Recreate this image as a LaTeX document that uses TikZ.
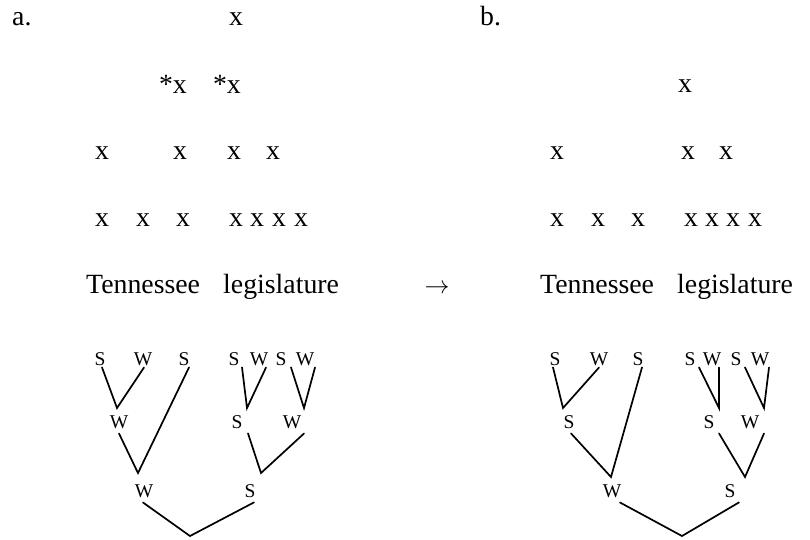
\documentclass[tikz,border=0pt]{standalone}
\usepackage{fontspec}
\setmainfont{Liberation Serif}
\begin{document}
\begin{tikzpicture}[x=1pt,y=-1pt,
  txt/.style={inner sep=0pt,anchor=base,font=\fontsize{27.8}{33}\selectfont},
  txtw/.style={txt,anchor=base west},
  txte/.style={txt,anchor=base east},
  lab/.style={inner sep=0pt,anchor=base,font=\fontsize{19.5}{23}\selectfont},
  br/.style={line width=1.7pt,line cap=round,line join=miter}]
\useasboundingbox (0,0) rectangle (810,539);
% ---------- a. grid ----------
\node[txtw] (alab) at (12,25) {a.};
\node[txt] (ax1) at (236,25) {x};
\node[txte] (ax2a) at (187,93) {*x};
\node[txte] (ax2b) at (241,93) {*x};
\node[txt] (ax3a) at (102,159) {x};
\node[txt] (ax3b) at (180,159) {x};
\node[txt] (ax3c) at (234,159) {x};
\node[txt] (ax3d) at (273,159) {x};
\node[txt] (ax4a) at (102,226) {x};
\node[txt] (ax4b) at (143,226) {x};
\node[txt] (ax4c) at (183,226) {x};
\node[txt] (ax4d) at (236,226) {x};
\node[txt] (ax4e) at (257,226) {x};
\node[txt] (ax4f) at (279,226) {x};
\node[txt] (ax4g) at (301,226) {x};
\node[txtw] (aw1) at (86,293) {Tennessee};
\node[txtw] (aw2) at (223,293) {legislature};
% arrow
\node[txt] (arr) at (437,293) {$\rightarrow$};
% ---------- b. grid ----------
\node[txtw] (blab) at (480,25) {b.};
\node[txt] (bx1) at (685,92) {x};
\node[txt] (bx3a) at (557,159) {x};
\node[txt] (bx3b) at (688,159) {x};
\node[txt] (bx3c) at (726,159) {x};
\node[txt] (bx4a) at (557,226) {x};
\node[txt] (bx4b) at (598,226) {x};
\node[txt] (bx4c) at (638,226) {x};
\node[txt] (bx4d) at (691,226) {x};
\node[txt] (bx4e) at (712,226) {x};
\node[txt] (bx4f) at (733,226) {x};
\node[txt] (bx4g) at (755,226) {x};
\node[txtw] (bw1) at (540,293) {Tennessee};
\node[txtw] (bw2) at (677,293) {legislature};
% ---------- a. tree ----------
\node[lab] (a1) at (100,365) {S};
\node[lab] (a2) at (143,365) {W};
\node[lab] (a3) at (184,365) {S};
\node[lab] (a4) at (234,365) {S};
\node[lab] (a5) at (259,365) {W};
\node[lab] (a6) at (281,365) {S};
\node[lab] (a7) at (305,365) {W};
\node[lab] (ma1) at (119,428) {W};
\node[lab] (ma2) at (237,428) {S};
\node[lab] (ma3) at (292,428) {W};
\node[lab] (ba1) at (144,497) {W};
\node[lab] (ba2) at (250,497) {S};
\coordinate (ja1) at (117,408);
\coordinate (ja2) at (247,408);
\coordinate (ja3) at (304,408);
\coordinate (ja4) at (138,473);
\coordinate (ja5) at (261,473);
\coordinate (ja6) at (190,536);
\draw[br] ([xshift=2pt,yshift=-2pt]a1.south) -- (ja1) -- ([xshift=1pt,yshift=-2pt]a2.south);
\draw[br] ([xshift=8pt,yshift=-2pt]a4.south) -- (ja2) -- ([xshift=7pt,yshift=-2pt]a5.south);
\draw[br] ([xshift=10pt,yshift=-2pt]a6.south) -- (ja3) -- ([xshift=10pt,yshift=-2pt]a7.south);
\draw[br] ([yshift=-5pt]ma1.south) -- (ja4) -- ([xshift=5pt,yshift=-2pt]a3.south);
\draw[br] ([xshift=11pt,yshift=-5pt]ma2.south) -- (ja5) -- ([xshift=12pt,yshift=-5pt]ma3.south);
\draw[br] ([xshift=-1pt,yshift=-5pt]ba1.south) -- (ja6) -- ([xshift=4pt,yshift=-5pt]ba2.south);
% ---------- b. tree ----------
\node[lab] (b1) at (555,365) {S};
\node[lab] (b2) at (599,365) {W};
\node[lab] (b3) at (638,365) {S};
\node[lab] (b4) at (690,365) {S};
\node[lab] (b5) at (712,365) {W};
\node[lab] (b6) at (736,365) {S};
\node[lab] (b7) at (760,365) {W};
\node[lab] (mb1) at (569,428) {S};
\node[lab] (mb2) at (709,428) {S};
\node[lab] (mb3) at (750,428) {W};
\node[lab] (bb1) at (612,497) {W};
\node[lab] (bb2) at (730,497) {S};
\coordinate (jb1) at (563,408);
\coordinate (jb2) at (719,408);
\coordinate (jb3) at (764,408);
\coordinate (jb4) at (611,477);
\coordinate (jb5) at (745,477);
\coordinate (jb6) at (682,536);
\draw[br] ([xshift=-2pt,yshift=-2pt]b1.south) -- (jb1) -- ([yshift=-2pt]b2.south);
\draw[br] ([xshift=9pt,yshift=-2pt]b4.south) -- (jb2) -- ([xshift=7pt,yshift=-2pt]b5.south);
\draw[br] ([xshift=9pt,yshift=-2pt]b6.south) -- (jb3) -- ([xshift=9pt,yshift=-2pt]b7.south);
\draw[br] ([xshift=2pt,yshift=-5pt]mb1.south) -- (jb4) -- ([xshift=4pt,yshift=-2pt]b3.south);
\draw[br] ([xshift=10pt,yshift=-5pt]mb2.south) -- (jb5) -- ([xshift=14pt,yshift=-5pt]mb3.south);
\draw[br] ([xshift=8pt,yshift=-5pt]bb1.south) -- (jb6) -- ([xshift=9pt,yshift=-5pt]bb2.south);
\end{tikzpicture}
\end{document}
